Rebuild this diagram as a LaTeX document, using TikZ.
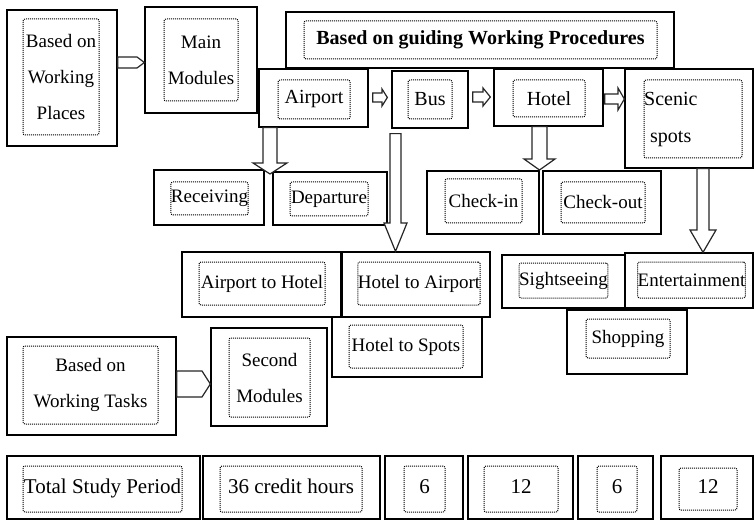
\documentclass[tikz,border=0pt]{standalone}
\usepackage{fontspec}
\setmainfont{Liberation Serif}
\usetikzlibrary{calc}
\begin{document}
\begin{tikzpicture}[x=1pt,y=-1pt,
  outerbox/.style 2 args={draw=black, line width=1.3pt, fill=white, inner sep=0pt,
    minimum width=#1pt, minimum height=#2pt},
  innerbox/.style 2 args={draw=black, line width=1pt, dash pattern=on 1pt off 1pt,
    rounded corners=2pt, inner sep=0pt, minimum width=#1pt, minimum height=#2pt,
    align=center, font=\fontsize{19}{36}\selectfont},
  toprow/.style={font=\fontsize{20}{36}\selectfont},
  bottomrow/.style={font=\fontsize{21}{26}\selectfont},
  plaintext/.style={inner sep=0pt, font=\fontsize{20}{36}\selectfont},
  blk/.style={draw=black!85, line width=1.2pt, fill=white, line join=miter}]
\useasboundingbox (0,0) rectangle (754,521);

% ---- module headers ----
\node[outerbox={110}{136}] (placesO) at (62,78) {};
\node[innerbox={76}{116}] (places) at (61,77) {Based on\\Working\\Places};
\node[outerbox={112}{106}] (mainO) at (201,60) {};
\node[innerbox={74}{82}] (main) at (201,60) {Main\\Modules};

\node[outerbox={388}{56}] (guideO) at (480,40) {};
\node[innerbox={353}{38}, font=\fontsize{20}{24}\selectfont\bfseries] (guide) at (480.5,40)
  {Based on guiding Working Procedures};

% ---- working places ----
\node[outerbox={109}{58}] (airportO) at (313.5,98) {};
\node[innerbox={72}{39}, toprow] (airport) at (314,99.5) {Airport};
\node[outerbox={76}{57}] (busO) at (430,99.5) {};
\node[innerbox={44}{39}, toprow] (bus) at (430,99.5) {Bus};
\node[outerbox={109}{57}] (hotelO) at (548.5,97.5) {};
\node[innerbox={72}{37}, toprow] (hotel) at (549,98.5) {Hotel};
\node[outerbox={128}{99}] (scenicO) at (689,118.5) {};
\node[innerbox={98}{78}] (scenic) at (693,119) {};
\node[plaintext, anchor=base west] (scenicA) at (644,106) {Scenic};
\node[plaintext, anchor=base west] (scenicB) at (650,143) {spots};

% ---- tasks ----
\node[outerbox={110}{55}] (receivingO) at (209,197.5) {};
\node[innerbox={73}{33}] (receiving) at (209.5,198.5) {Receiving};
\node[outerbox={114}{53}] (departureO) at (330,198.5) {};
\node[innerbox={78}{34}] (departure) at (329,199) {Departure};
\node[outerbox={112}{63}] (checkinO) at (483,202.5) {};
\node[innerbox={77}{44}] (checkin) at (483.5,201) {Check-in};
\node[outerbox={118}{63}] (checkoutO) at (602,202.5) {};
\node[innerbox={84}{41}] (checkout) at (603,202.5) {Check-out};

\node[outerbox={159}{65}] (a2hO) at (261.5,284.5) {};
\node[innerbox={126}{43}] (a2h) at (262,283.5) {Airport to Hotel};
\node[outerbox={148}{65}] (h2aO) at (416,284.5) {};
\node[innerbox={118}{43}] (h2a) at (419,283.5) {Hotel to Airport};
\node[outerbox={150}{60}] (h2sO) at (407,347) {};
\node[innerbox={114}{43}] (h2s) at (406,346.5) {Hotel to Spots};

\node[outerbox={123}{53}] (sightO) at (563.5,281.5) {};
\node[innerbox={87}{35}] (sight) at (563.5,280.5) {Sightseeing};
\node[outerbox={128}{55}] (entO) at (689,280.5) {};
\node[innerbox={103}{36}] (ent) at (691.5,280) {Entertainment};
\node[outerbox={120}{64}] (shopO) at (627,342) {};
\node[innerbox={84}{39}] (shop) at (628,338.5) {Shopping};

% ---- second modules ----
\node[outerbox={169}{98}] (tasksO) at (91.5,386) {};
\node[innerbox={135}{78}] (tasks) at (90.5,385) {Based on\\Working Tasks};
\node[outerbox={116}{98}] (secondO) at (269,377) {};
\node[innerbox={81}{79}] (second) at (269.5,377.5) {Second\\Modules};

% ---- study period ----
\node[outerbox={193}{63}] (totalO) at (103.5,487.5) {};
\node[innerbox={159}{46}, bottomrow] (total) at (102.5,489) {\raisebox{5pt}{Total Study Period}};
\node[outerbox={177}{63}] (creditO) at (291.5,487.5) {};
\node[innerbox={142}{46}, bottomrow] (credit) at (291,489) {\raisebox{5pt}{36 credit hours}};
\node[outerbox={78}{63}] (sixAO) at (424,487.5) {};
\node[innerbox={41}{46}, bottomrow] (sixA) at (424.5,489) {\raisebox{5pt}{6}};
\node[outerbox={105}{63}] (twelveAO) at (520.5,487.5) {};
\node[innerbox={74}{46}, bottomrow] (twelveA) at (521,489) {\raisebox{5pt}{12}};
\node[outerbox={75}{63}] (sixBO) at (615.5,487.5) {};
\node[innerbox={40}{46}, bottomrow] (sixB) at (617,489) {\raisebox{5pt}{6}};
\node[outerbox={92}{63}] (twelveBO) at (707,487.5) {};
\node[innerbox={58}{42}, bottomrow] (twelveB) at (708,489) {\raisebox{4pt}{12}};

% ---- block arrows ----
\draw[blk] (placesO.east |- 0,57) -- (137,57) -- (mainO.west |- 0,62.5)
  -- (137,68) -- (placesO.east |- 0,68) -- cycle;
\draw[blk] (tasksO.east |- 0,371) -- (202,371) -- (secondO.west |- 0,384)
  -- (202,397) -- (tasksO.east |- 0,397) -- cycle;

\draw[blk] ($(airportO.east |- 0,93)+(4,0)$) -- (382,93) -- (382,89)
  -- ($(busO.west |- 0,97.5)+(-4,0)$) -- (382,106) -- (382,102)
  -- ($(airportO.east |- 0,102)+(4,0)$) -- cycle;
\draw[blk] ($(busO.east |- 0,92)+(4,0)$) -- (483,92) -- (483,88)
  -- ($(hotelO.west |- 0,97)+(-3,0)$) -- (483,106) -- (483,102)
  -- ($(busO.east |- 0,102)+(4,0)$) -- cycle;
\draw[blk] ($(hotelO.east |- 0,94)+(1,0)$) -- (618,94) -- (618,88)
  -- (scenicO.west |- 0,99) -- (618,110) -- (618,104)
  -- ($(hotelO.east |- 0,104)+(1,0)$) -- cycle;

\coordinate (tipAir) at (270,174);
\draw[blk] (airportO.south -| 263,0) -- (263,163) -- (253,163) -- (tipAir)
  -- (287,163) -- (277,163) -- (airportO.south -| 277,0) -- cycle;
\draw[blk] ($(busO.south -| 390,0)+(0,5)$) -- (390,223) -- (384,223)
  -- (h2aO.north -| 395.5,0) -- (407,223) -- (401,223)
  -- ($(busO.south -| 401,0)+(0,5)$) -- cycle;
\coordinate (tipHotel) at (539.5,170);
\draw[blk] (hotelO.south -| 532,0) -- (532,159) -- (524,159) -- (tipHotel)
  -- (555,159) -- (547,159) -- (hotelO.south -| 547,0) -- cycle;
\draw[blk] (scenicO.south -| 697,0) -- (697,230) -- (690,230)
  -- (entO.north -| 703,0) -- (716,230) -- (709,230)
  -- (scenicO.south -| 709,0) -- cycle;
\end{tikzpicture}
\end{document}
